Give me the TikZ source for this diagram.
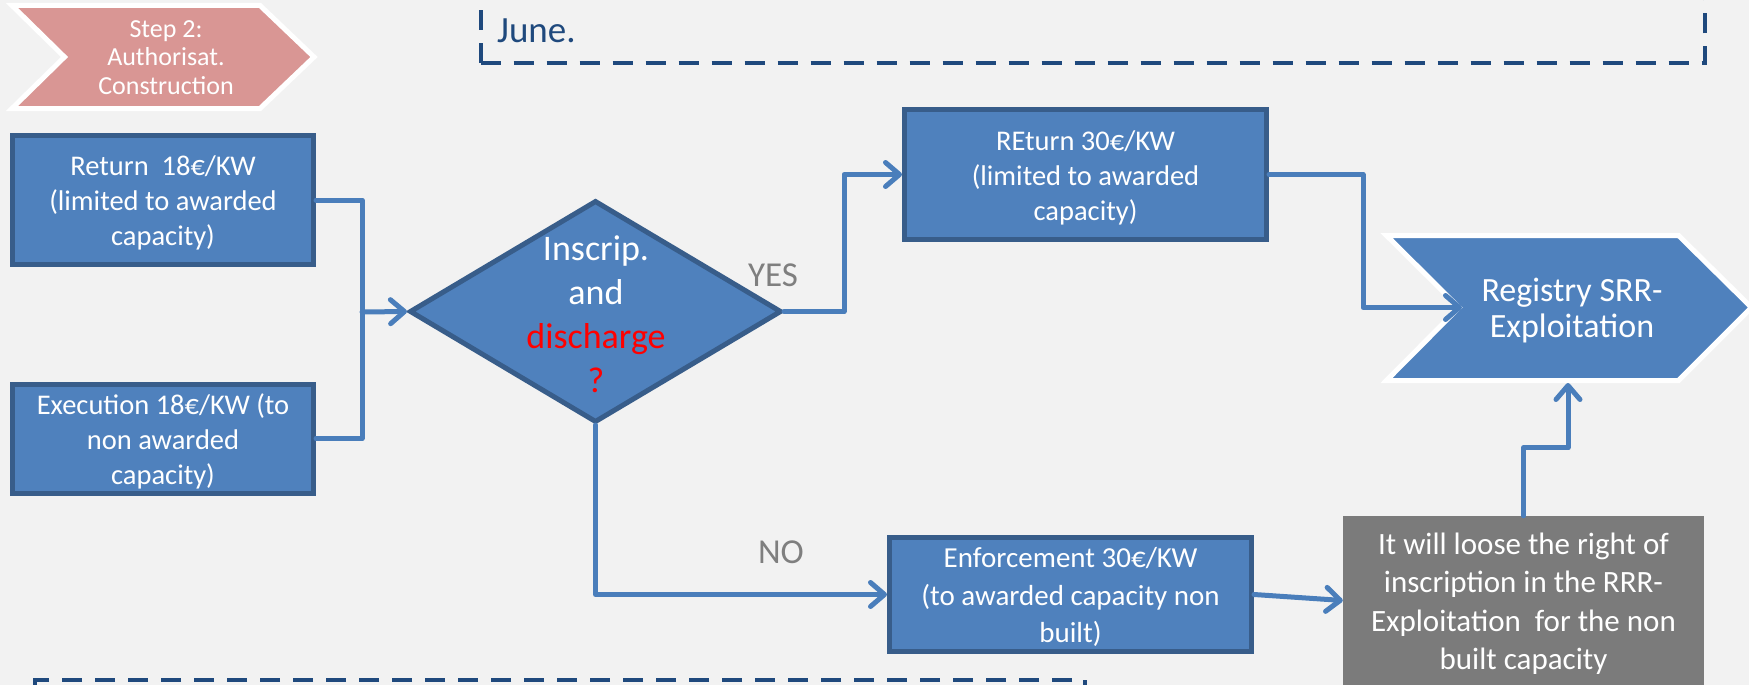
\documentclass[tikz,border=0pt]{standalone}
\usepackage{fontspec}
\setmainfont{Carlito}
\usetikzlibrary{arrows.meta,shapes.geometric}
\definecolor{bg}{HTML}{F2F2F2}
\definecolor{boxfill}{HTML}{4F81BD}
\definecolor{boxline}{HTML}{385D8A}
\definecolor{conn}{HTML}{4A7EBB}
\definecolor{greybox}{HTML}{7B7B7B}
\definecolor{labelgrey}{HTML}{7F7F7F}
\definecolor{pinkstep}{HTML}{D99694}
\definecolor{darkblue}{HTML}{1F497D}
\newcommand\tup[1]{\rule{0pt}{#1}}
\newcommand\tdn[1]{\rule[-#1]{0pt}{0pt}}
\begin{document}
\begin{tikzpicture}[x=1pt,y=-1pt,
  bluebox/.style={draw=boxline, fill=boxfill, line width=5pt, text=white, inner sep=0pt, align=center, font=\fontsize{28.5}{35}\selectfont},
  greynode/.style={fill=greybox, text=white, inner sep=0pt, align=center, font=\fontsize{31}{38.3}\selectfont},
  chevwhite/.style={draw=white, line width=5pt},
  link/.style={draw=conn, line width=5pt, line cap=round, line join=round},
  arr/.style={link, -{Straight Barb[length=14pt,width=24pt,round]}},
  dashline/.style={draw=darkblue, line width=4pt, dash pattern=on 20pt off 13pt},
  yesno/.style={text=labelgrey, font=\fontsize{35}{42}\selectfont, inner sep=0pt}
]
\useasboundingbox (0,0) rectangle (1749,685);
\fill[bg] (0,0) rectangle (1749,685);

% top dashed box
\draw[dashline] (480.5,63) -- (480.5,-40);
\draw[dashline] (480.5,63) -- (1705,63) -- (1705,-40);
\node[anchor=base west, text=darkblue, font=\fontsize{37}{44}\selectfont, inner sep=0pt] (june) at (497,43) {June.};

% bottom dashed box
\draw[dashline] (1085,700) -- (1085,680) -- (35,680) -- (35,700);

% step chevron
\draw[chevwhite, fill=pinkstep] (12,5.5) -- (260,5.5) -- (314,57) -- (260,108.5) -- (12,108.5) -- (64.5,57) -- cycle;
\node[text=white, align=center, inner sep=0pt, font=\fontsize{26}{28.5}\selectfont] (step) at (166,57.5) {Step 2:\\Authorisat.\\Construction};

% registry chevron
\draw[chevwhite, fill=boxfill] (1386.5,235.5) -- (1678.5,235.5) -- (1751.5,307.5) -- (1678.5,380.5) -- (1386.5,380.5) -- (1459,307.5) -- cycle;
\coordinate (regnotch) at (1462,307.5);
\coordinate (regbottom) at (1568,383);
\node[text=white, align=center, inner sep=0pt, font=\fontsize{34}{36}\selectfont] (reg) at (1572,311) {Registry SRR-\\Exploitation};

% boxes
\node[bluebox, minimum width=301pt, minimum height=129pt] (ret) at (163,200) {\tup{30pt}Return\ \ 18€/KW\\(limited to awarded\\capacity)\tdn{9pt}};
\node[bluebox, minimum width=301pt, minimum height=100pt] (exe) at (163,438.5) {\tup{30pt}Execution 18€/KW (to\\non awarded\\capacity)\tdn{9pt}};
\node[bluebox, minimum width=362pt, minimum height=130pt] (rtn) at (1085.5,174.5) {\tup{30pt}REturn 30€/KW\\(limited to awarded\\capacity)\tdn{9pt}};
\node[bluebox, minimum width=362pt, minimum height=108pt, font=\fontsize{29}{37.5}\selectfont] (enf) at (1070.5,594.5) {\tup{30.5pt}Enforcement 30€/KW\\(to awarded capacity non\\built)\tdn{9.2pt}};
\node[greynode, minimum width=361pt, minimum height=169pt] (gry) at (1523.5,600.5) {\tup{32.5pt}It will loose the right of\\inscription in the RRR-\\Exploitation\ \ for the non\\built capacity\tdn{9.8pt}};

% decision
\node[diamond, draw=boxline, fill=boxfill, line width=5pt, inner sep=0pt, minimum width=372pt, minimum height=222pt] (dec) at (595.5,311.5) {};
\node[text=white, align=center, inner sep=0pt, font=\fontsize{36}{44}\selectfont] (dectext) at (596,314) {Inscrip.\\and\\\textcolor{red}{discharge}\\\textcolor{red}{?}};

\node[yesno] (yes) at (773,275.5) {YES};
\node[yesno] (no) at (781,552) {NO};

% connectors
\coordinate (mx) at (362,312);
\draw[link] (ret.east) -| (mx);
\draw[link] (exe.east) -| (mx);
\draw[arr] (mx) -- (dec.west);
\draw[arr] (dec.east) -- ++(60,0) |- (rtn.west);
\draw[arr] (rtn.east) -- ++(94,0) |- (regnotch);
\draw[arr] (dec.south) |- (enf.west);
\draw[arr] (enf.east) -- (gry.west);
\draw[arr] (gry.north) -- ++(0,-68) -| (regbottom);
\end{tikzpicture}
\end{document}
